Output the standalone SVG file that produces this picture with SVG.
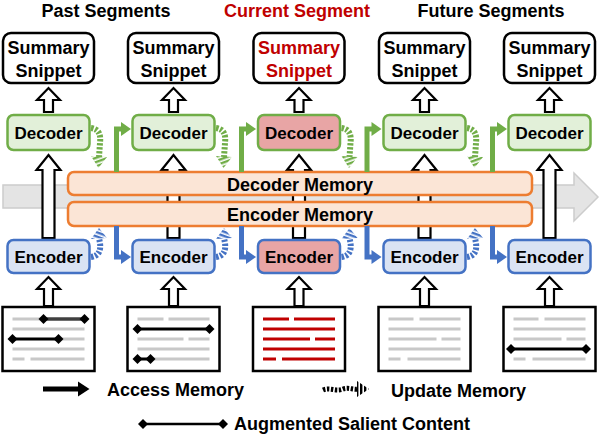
<svg xmlns="http://www.w3.org/2000/svg" width="600" height="436" viewBox="0 0 600 436">
<defs>
<style>
text{font-family:"Liberation Sans",Arial,sans-serif;font-weight:bold;text-anchor:middle;fill:#000}
.hdr{font-size:18px}
.sum{fill:#fff;stroke:#000;stroke-width:2.5}
.st{font-size:18px}
.dec{fill:#e2f0d9;stroke:#70ad47;stroke-width:2.5}
.enc{fill:#dae3f3;stroke:#4472c4;stroke-width:2.5}
.cur{fill:#e8a5a5}
.nt{font-size:17px}
.mem{fill:#fbe5d6;stroke:#ed7d31;stroke-width:2.5}
.mt{font-size:18px}
.hol{fill:#fff;stroke:#000;stroke-width:2.2;stroke-linejoin:miter}
.doc{fill:#fff;stroke:#000;stroke-width:2.5}
.gl{stroke:#c8c8c8;stroke-width:3;fill:none}
.bl{stroke:#000;stroke-width:3;fill:none}
.dg{stroke:#404040;stroke-width:3.5;fill:none}
.rl{stroke:#c00000;stroke-width:3;fill:none}
.ga{fill:none;stroke:#70ad47;stroke-width:5}
.gh{fill:#70ad47}
.ba{fill:none;stroke:#4472c4;stroke-width:5}
.bh{fill:#4472c4}
.gs{fill:none;stroke:#70ad47;stroke-width:6;stroke-dasharray:2.4 1.6}
.bs{fill:none;stroke:#4472c4;stroke-width:6;stroke-dasharray:2.4 1.6}
.ks{fill:none;stroke:#000;stroke-width:5;stroke-dasharray:2.4 1.6}
.lg{font-size:18px}
</style>
<pattern id="stG" patternUnits="userSpaceOnUse" width="4" height="4" patternTransform="rotate(-20)"><rect width="4" height="2.4" fill="#70ad47"/></pattern>
<pattern id="stB" patternUnits="userSpaceOnUse" width="4" height="4" patternTransform="rotate(20)"><rect width="4" height="2.4" fill="#4472c4"/></pattern>
<pattern id="stK" patternUnits="userSpaceOnUse" width="4" height="4"><rect width="2.4" height="4" fill="#000"/></pattern>
<g id="dia"><polygon points="-5,0 0,-5 5,0 0,5" fill="#000"/></g>
</defs>

<g id="headers">
<text class="hdr" x="106" y="17">Past Segments</text>
<text class="hdr" x="297" y="17" style="fill:#c00000">Current Segment</text>
<text class="hdr" x="491" y="17">Future Segments</text>
</g>

<g id="timeline">
<polygon points="3,185 574,185 574,173 598,197 574,221 574,208 3,208" fill="#e4e4e4" stroke="#cccccc" stroke-width="1.5"/>
</g>

<g id="tall-behind">
<polygon class="hol" points="167.5,238 167.5,170 161.5,170 173.5,155 185.5,170 179.5,170 179.5,238"/>
<polygon class="hol" points="293,238 293,170 287,170 299,155 311,170 305,170 305,238"/>
<polygon class="hol" points="418.5,238 418.5,170 412.5,170 424.5,155 436.5,170 430.5,170 430.5,238"/>
</g>

<g id="decoder-memory">
<rect class="mem" x="68" y="172" width="464" height="23" rx="6"/>
<text class="mt" x="300" y="191">Decoder Memory</text>
</g>
<g id="encoder-memory">
<rect class="mem" x="68" y="202" width="464" height="24" rx="6"/>
<text class="mt" x="300" y="221">Encoder Memory</text>
</g>

<g id="tall-front">
<polygon class="hol" points="42.5,238 42.5,170 36.5,170 48.5,155 60.5,170 54.5,170 54.5,238"/>
<polygon class="hol" points="543.5,238 543.5,170 537.5,170 549.5,155 561.5,170 555.5,170 555.5,238"/>
</g>

<g id="small-arrows">
<polygon class="hol" points="44,112 44,100 37,100 48.5,88 60,100 53,100 53,112"/>
<polygon class="hol" points="169,112 169,100 162,100 173.5,88 185,100 178,100 178,112"/>
<polygon class="hol" points="294.5,112 294.5,100 287.5,100 299,88 310.5,100 303.5,100 303.5,112"/>
<polygon class="hol" points="420,112 420,100 413,100 424.5,88 436,100 429,100 429,112"/>
<polygon class="hol" points="545,112 545,100 538,100 549.5,88 561,100 554,100 554,112"/>
<polygon class="hol" points="44,306 44,289 37,289 48.5,277 60,289 53,289 53,306"/>
<polygon class="hol" points="169,306 169,289 162,289 173.5,277 185,289 178,289 178,306"/>
<polygon class="hol" points="294.5,306 294.5,289 287.5,289 299,277 310.5,289 303.5,289 303.5,306"/>
<polygon class="hol" points="420,306 420,289 413,289 424.5,277 436,289 429,289 429,306"/>
<polygon class="hol" points="545,306 545,289 538,289 549.5,277 561,289 554,289 554,306"/>
</g>

<g id="summary-1"><rect class="sum" x="3" y="33" width="91" height="50" rx="8"/><text class="st" x="48.5" y="54">Summary</text><text class="st" x="48.5" y="77">Snippet</text></g>
<g id="summary-2"><rect class="sum" x="128" y="33" width="91" height="50" rx="8"/><text class="st" x="173.5" y="54">Summary</text><text class="st" x="173.5" y="77">Snippet</text></g>
<g id="summary-3"><rect class="sum" x="253.5" y="33" width="91" height="50" rx="8"/><text class="st" x="299" y="54" style="fill:#c00000">Summary</text><text class="st" x="299" y="77" style="fill:#c00000">Snippet</text></g>
<g id="summary-4"><rect class="sum" x="379" y="33" width="91" height="50" rx="8"/><text class="st" x="424.5" y="54">Summary</text><text class="st" x="424.5" y="77">Snippet</text></g>
<g id="summary-5"><rect class="sum" x="504" y="33" width="91" height="50" rx="8"/><text class="st" x="549.5" y="54">Summary</text><text class="st" x="549.5" y="77">Snippet</text></g>

<g id="decoder-1"><rect class="dec" x="7.5" y="115" width="82" height="35" rx="6"/><text class="nt" x="48.5" y="139">Decoder</text></g>
<g id="decoder-2"><rect class="dec" x="132.5" y="115" width="82" height="35" rx="6"/><text class="nt" x="173.5" y="139">Decoder</text></g>
<g id="decoder-3"><rect class="dec cur" x="258" y="115" width="82" height="35" rx="6"/><text class="nt" x="299" y="139">Decoder</text></g>
<g id="decoder-4"><rect class="dec" x="383.5" y="115" width="82" height="35" rx="6"/><text class="nt" x="424.5" y="139">Decoder</text></g>
<g id="decoder-5"><rect class="dec" x="508.5" y="115" width="82" height="35" rx="6"/><text class="nt" x="549.5" y="139">Decoder</text></g>

<g id="encoder-1"><rect class="enc" x="7.5" y="240" width="82" height="33" rx="6"/><text class="nt" x="48.5" y="263">Encoder</text></g>
<g id="encoder-2"><rect class="enc" x="132.5" y="240" width="82" height="33" rx="6"/><text class="nt" x="173.5" y="263">Encoder</text></g>
<g id="encoder-3"><rect class="enc cur" x="258" y="240" width="82" height="33" rx="6"/><text class="nt" x="299" y="263">Encoder</text></g>
<g id="encoder-4"><rect class="enc" x="383.5" y="240" width="82" height="33" rx="6"/><text class="nt" x="424.5" y="263">Encoder</text></g>
<g id="encoder-5"><rect class="enc" x="508.5" y="240" width="82" height="33" rx="6"/><text class="nt" x="549.5" y="263">Encoder</text></g>

<g id="connectors">
<path class="gs" d="M91,128 C99,129 101,135 100,143 L99,157"/><polygon fill="url(#stG)" points="91,156 107,157 98.5,168"/>
<path class="ga" d="M116.5,172 V129 H123"/><polygon class="gh" points="121,122 131,129 121,136"/>
<path class="bs" d="M91,257 C99,256 101,250 100,243 L99,238"/><polygon fill="url(#stB)" points="91,239 107,238 99,228"/>
<path class="ba" d="M116.5,226 V257 H123"/><polygon class="bh" points="121,250 131,257 121,264"/>

<path class="gs" d="M216,128 C224,129 226,135 225,143 L224,157"/><polygon fill="url(#stG)" points="216,156 232,157 223.5,168"/>
<path class="ga" d="M241.5,172 V129 H248"/><polygon class="gh" points="246,122 256,129 246,136"/>
<path class="bs" d="M216,257 C224,256 226,250 225,243 L224,238"/><polygon fill="url(#stB)" points="216,239 232,238 224,228"/>
<path class="ba" d="M241.5,226 V257 H248"/><polygon class="bh" points="246,250 256,257 246,264"/>

<path class="gs" d="M341.5,128 C349.5,129 351.5,135 350.5,143 L349.5,157"/><polygon fill="url(#stG)" points="341.5,156 357.5,157 349,168"/>
<path class="ga" d="M367,172 V129 H373.5"/><polygon class="gh" points="371.5,122 381.5,129 371.5,136"/>
<path class="bs" d="M341.5,257 C349.5,256 351.5,250 350.5,243 L349.5,238"/><polygon fill="url(#stB)" points="341.5,239 357.5,238 349.5,228"/>
<path class="ba" d="M367,226 V257 H373.5"/><polygon class="bh" points="371.5,250 381.5,257 371.5,264"/>

<path class="gs" d="M467,128 C475,129 477,135 476,143 L475,157"/><polygon fill="url(#stG)" points="467,156 483,157 474.5,168"/>
<path class="ga" d="M492.5,172 V129 H499"/><polygon class="gh" points="497,122 507,129 497,136"/>
<path class="bs" d="M467,257 C475,256 477,250 476,243 L475,238"/><polygon fill="url(#stB)" points="467,239 483,238 475,228"/>
<path class="ba" d="M492.5,226 V257 H499"/><polygon class="bh" points="497,250 507,257 497,264"/>
</g>

<g id="doc-1">
<rect class="doc" x="2.5" y="307" width="92" height="64"/>
<path class="gl" d="M12.5,319 H43.5 M12.5,329 H84.5 M58.5,339 H84.5 M12.5,349 H84.5 M12.5,359 H24.5 M30.5,359 H84.5"/>
<path class="dg" d="M43.5,319 H84.5"/>
<path class="bl" d="M12.5,339 H58.5"/>
<use href="#dia" x="43.5" y="319"/><use href="#dia" x="84.5" y="319"/>
<use href="#dia" x="12.5" y="339"/><use href="#dia" x="58.5" y="339"/>
</g>
<g id="doc-2">
<rect class="doc" x="127.5" y="307" width="92" height="64"/>
<path class="gl" d="M137.5,319 H163.5 M168.5,319 H209.5 M137.5,339 H183.5 M188.5,339 H209.5 M137.5,349 H209.5 M150.5,359 H209.5"/>
<path class="bl" d="M137.5,329 H209.5 M137.5,359 H150.5"/>
<use href="#dia" x="137.5" y="329"/><use href="#dia" x="209.5" y="329"/>
<use href="#dia" x="137.5" y="359"/><use href="#dia" x="150.5" y="359"/>
</g>
<g id="doc-3">
<rect class="doc" x="253" y="307" width="92" height="64"/>
<path class="rl" d="M263,319 H289 M294,319 H335 M263,329 H335 M263,339 H310 M315,339 H335 M263,349 H335 M263,359 H276 M282,359 H335"/>
</g>
<g id="doc-4">
<rect class="doc" x="378.5" y="307" width="92" height="64"/>
<path class="gl" d="M388.5,319 H413.5 M419.5,319 H460.5 M388.5,329 H460.5 M388.5,339 H436.5 M441.5,339 H460.5 M388.5,349 H460.5 M388.5,359 H400.5 M407.5,359 H460.5"/>
</g>
<g id="doc-5">
<rect class="doc" x="503.5" y="307" width="92" height="64"/>
<path class="gl" d="M513.5,319 H538.5 M544.5,319 H585.5 M513.5,329 H585.5 M513.5,339 H561.5 M566.5,339 H585.5 M513.5,359 H525.5 M532.5,359 H585.5"/>
<path class="bl" d="M511,349 H586"/>
<use href="#dia" x="511" y="349"/><use href="#dia" x="586" y="349"/>
</g>

<g id="legend">
<path d="M43,389 H80" stroke="#000" stroke-width="5"/>
<polygon points="78,381.5 89.5,389 78,396.5" fill="#000"/>
<text class="lg" x="175.5" y="396">Access Memory</text>
<path class="ks" d="M323,390 C330,387 336,392 343,389 C349,387 353,390 358,389"/>
<polygon fill="url(#stK)" points="357,381 369,389 357,397"/>
<text class="lg" x="458.5" y="397">Update Memory</text>
<path d="M143,424 H223" stroke="#000" stroke-width="2.5"/>
<use href="#dia" x="143" y="424"/><use href="#dia" x="223" y="424"/>
<text class="lg" x="352" y="430">Augmented Salient Content</text>
</g>
</svg>
